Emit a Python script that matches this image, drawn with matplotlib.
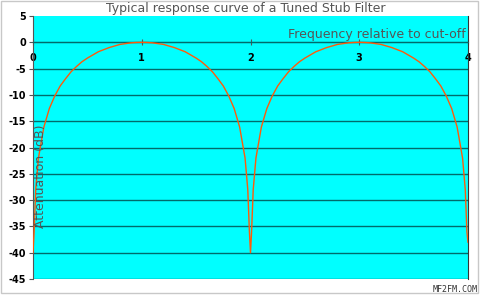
import numpy as np
import matplotlib.pyplot as plt

# response, one lobe per unit of frequency
freq = [0.0, 0.01, 0.025, 0.05, 0.1, 0.15, 0.2, 0.25, 0.3, 0.35, 0.4, 0.45, 0.5,
        0.55, 0.6, 0.65, 0.7, 0.75, 0.8, 0.85, 0.9, 0.95, 1.0,
        1.05, 1.1, 1.15, 1.2, 1.25, 1.3, 1.35, 1.4, 1.45, 1.5,
        1.55, 1.6, 1.65, 1.7, 1.75, 1.8, 1.85, 1.9, 1.95, 1.975, 1.99, 2.0,
        2.01, 2.025, 2.05, 2.1, 2.15, 2.2, 2.25, 2.3, 2.35, 2.4, 2.45, 2.5,
        2.55, 2.6, 2.65, 2.7, 2.75, 2.8, 2.85, 2.9, 2.95, 3.0,
        3.05, 3.1, 3.15, 3.2, 3.25, 3.3, 3.35, 3.4, 3.45, 3.5,
        3.55, 3.6, 3.65, 3.7, 3.75, 3.8, 3.85, 3.9, 3.95, 3.975, 3.99, 4.0]
atten = [-40, -36, -28, -22, -16.1, -12.6, -10.2, -8.3, -6.9, -5.6, -4.6, -3.7, -3.0,
         -2.4, -1.8, -1.4, -1.0, -0.7, -0.4, -0.25, -0.1, -0.03, 0,
         -0.03, -0.1, -0.25, -0.4, -0.7, -1.0, -1.4, -1.8, -2.4, -3.0,
         -3.7, -4.6, -5.6, -6.9, -8.3, -10.2, -12.6, -16.1, -22, -28, -36, -40,
         -36, -28, -22, -16.1, -12.6, -10.2, -8.3, -6.9, -5.6, -4.6, -3.7, -3.0,
         -2.4, -1.8, -1.4, -1.0, -0.7, -0.4, -0.25, -0.1, -0.03, 0,
         -0.03, -0.1, -0.25, -0.4, -0.7, -1.0, -1.4, -1.8, -2.4, -3.0,
         -3.7, -4.6, -5.6, -6.9, -8.3, -10.2, -12.6, -16.1, -22, -28, -36, -38]

xticks = [0, 1, 2, 3, 4]
yticks = [-45, -40, -35, -30, -25, -20, -15, -10, -5, 0, 5]

txt = '#555555'
fig = plt.figure(figsize=(4.8, 2.95), dpi=100)
fig.patch.set_facecolor('white')
fig.patches.append(plt.Rectangle((0.002, 0.006), 0.994, 0.99, transform=fig.transFigure,
                                 fill=False, edgecolor='#c8c8c8', lw=1))

ax = fig.add_axes([0.06875, 0.0542, 0.90625, 0.8915])
ax.set_facecolor('#00ffff')
ax.set_xlim(0, 4)
ax.set_ylim(-45, 5)

for y in yticks[:-1]:
    ax.axhline(y, color='#006b6b', lw=1, zorder=1)

ax.plot(freq, atten, color='#ff5a0a', lw=1, zorder=3)

ax.spines['top'].set_visible(False)
ax.spines['bottom'].set_position(('data', 0))
ax.spines['bottom'].set_color('#006b6b')
ax.spines['left'].set_color('#555555')
ax.spines['right'].set_color('#333333')

ax.set_xticks(xticks)
ax.set_xticklabels([str(v) for v in xticks], fontsize=7, fontweight='bold')
ax.set_yticks(yticks)
ax.set_yticklabels([str(v) for v in yticks], fontsize=7, fontweight='bold')
ax.tick_params(axis='x', direction='inout', length=5, pad=5, color='#555555')
ax.tick_params(axis='y', direction='out', length=3, pad=2, color='#555555')

fig.text(0.512, 0.97, 'Typical response curve of a Tuned Stub Filter', ha='center',
         va='center', fontsize=9, color=txt)
ax.text(3.98, 0.3, 'Frequency relative to cut-off', ha='right', va='bottom',
        fontsize=9, color=txt)
ax.text(0.07, -25.5, 'Attenuation (dB)', rotation=90, ha='center', va='center',
        fontsize=9, color=txt)
fig.text(0.995, 0.018, 'MF2FM.COM', ha='right', va='center', fontsize=6,
         color='#333333', family='DejaVu Sans Mono')

fig.savefig('out.png', dpi=100)
